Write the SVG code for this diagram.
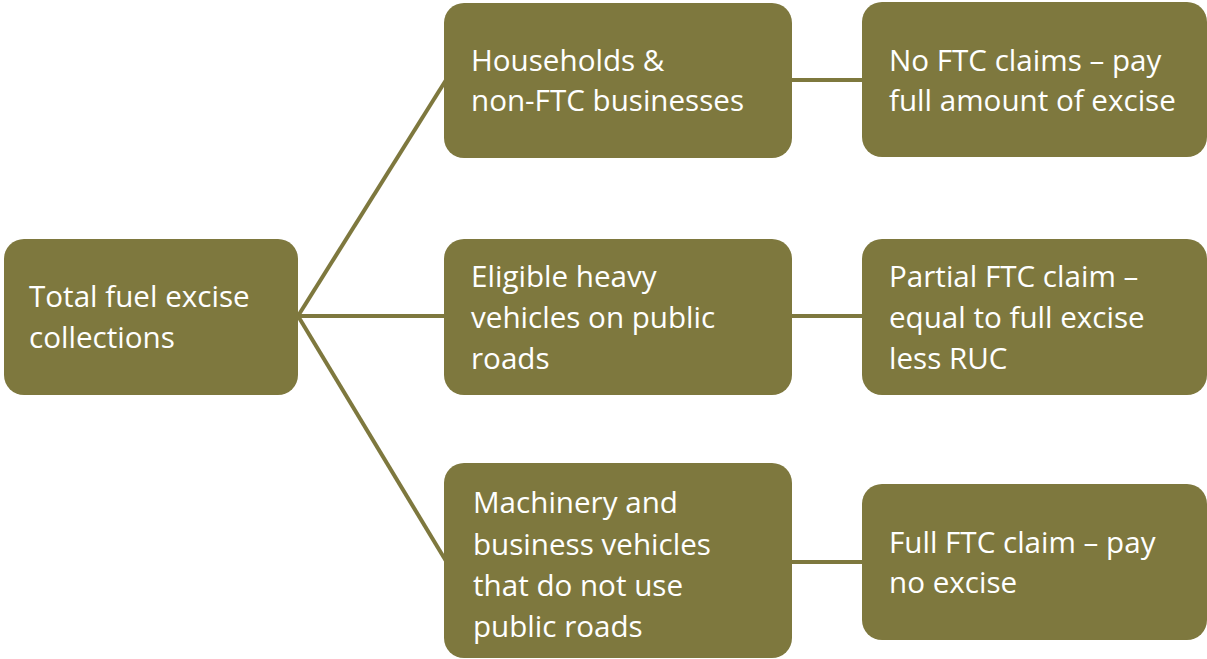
<svg xmlns="http://www.w3.org/2000/svg" width="1207" height="659" viewBox="0 0 1207 659">
  <style>
    .box { fill: #7e783e; }
    .lbl { fill: #ffffff; font-family: "Open Sans", "Noto Sans", "Liberation Sans", sans-serif; font-size: 29.6px; }
    .link { stroke: #7e783e; stroke-width: 4; fill: none; }
  </style>
  <rect width="1207" height="659" fill="#ffffff"/>

  <!-- connectors -->
  <g id="connectors">
    <line class="link" x1="298" y1="316" x2="446" y2="80"/>
    <line class="link" x1="298" y1="316" x2="446" y2="316"/>
    <line class="link" x1="298" y1="316" x2="446" y2="561"/>
    <line class="link" x1="790" y1="80" x2="864" y2="80"/>
    <line class="link" x1="790" y1="316" x2="864" y2="316"/>
    <line class="link" x1="790" y1="562" x2="864" y2="562"/>
  </g>

  <!-- root -->
  <g id="total-collections">
    <rect class="box" x="4" y="239" width="294" height="156" rx="20"/>
    <text class="lbl"><tspan x="29" y="307">Total fuel excise</tspan><tspan x="29" y="348">collections</tspan></text>
  </g>

  <!-- user groups -->
  <g id="households">
    <rect class="box" x="444" y="3" width="348" height="155" rx="20"/>
    <text class="lbl"><tspan x="471" y="71">Households &amp;</tspan><tspan x="471" y="111">non-FTC businesses</tspan></text>
  </g>
  <g id="heavy-vehicles">
    <rect class="box" x="444" y="239" width="348" height="156" rx="20"/>
    <text class="lbl"><tspan x="471" y="287">Eligible heavy</tspan><tspan x="471" y="328">vehicles on public</tspan><tspan x="471" y="369">roads</tspan></text>
  </g>
  <g id="off-road">
    <rect class="box" x="444" y="463" width="348" height="195" rx="20"/>
    <text class="lbl"><tspan x="473" y="513">Machinery and</tspan><tspan x="473" y="555">business vehicles</tspan><tspan x="473" y="596">that do not use</tspan><tspan x="473" y="637">public roads</tspan></text>
  </g>

  <!-- outcomes -->
  <g id="no-claim">
    <rect class="box" x="862" y="2" width="345" height="155" rx="20"/>
    <text class="lbl"><tspan x="889" y="71">No FTC claims – pay</tspan><tspan x="889" y="111">full amount of excise</tspan></text>
  </g>
  <g id="partial-claim">
    <rect class="box" x="862" y="239" width="345" height="156" rx="20"/>
    <text class="lbl"><tspan x="889" y="287">Partial FTC claim –</tspan><tspan x="889" y="328">equal to full excise</tspan><tspan x="889" y="369">less RUC</tspan></text>
  </g>
  <g id="full-claim">
    <rect class="box" x="862" y="484" width="345" height="156" rx="20"/>
    <text class="lbl"><tspan x="889" y="553">Full FTC claim – pay</tspan><tspan x="889" y="593">no excise</tspan></text>
  </g>
</svg>
